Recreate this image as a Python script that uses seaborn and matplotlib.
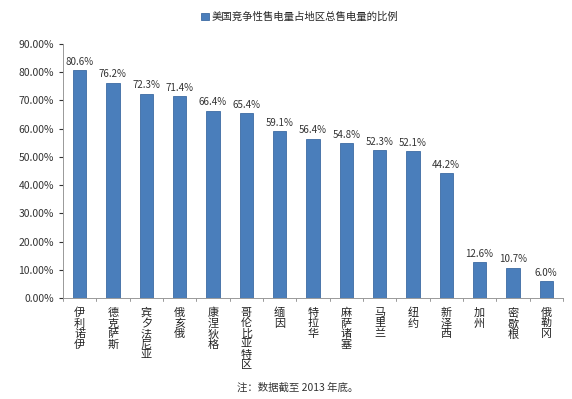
import pandas as pd
import seaborn as sns
import matplotlib.pyplot as plt
from matplotlib.ticker import FuncFormatter

states = ['伊利诺伊', '德克萨斯', '宾夕法尼亚', '俄亥俄', '康涅狄格', '哥伦比亚特区', '缅因',
          '特拉华', '麻萨诸塞', '马里兰', '纽约', '新泽西', '加州', '密歇根', '俄勒冈']
share = [80.6, 76.2, 72.3, 71.4, 66.4, 65.4, 59.1, 56.4, 54.8, 52.3, 52.1, 44.2, 12.6, 10.7, 6.0]
series_name = '美国竞争性售电量占地区总售电量的比例'
note = '注：数据截至 2013 年底。'

df = pd.DataFrame({'state': states, 'share': share})

sns.set_style('white')
plt.rcParams['font.family'] = ['Noto Sans CJK SC', 'DejaVu Sans']

fig = plt.figure(figsize=(5.72, 3.99), dpi=100)
ax = fig.add_axes([0.110, 0.253, 0.874, 0.637])

sns.barplot(data=df, x='state', y='share', ax=ax, color='#4a7ebb', width=0.4,
            edgecolor='#3d6ba3', linewidth=0.6, saturation=1, label=series_name)

for i, v in enumerate(share):
    ax.text(i, v + 1.2, f'{v:.1f}%', ha='center', va='bottom', fontsize=7, color='#333333')

ax.set_ylim(0, 90)
ax.set_yticks(range(0, 91, 10))
ax.yaxis.set_major_formatter(FuncFormatter(lambda y, _: f'{y:.2f}%'))
ax.set_xlim(-0.5, len(states) - 0.5)
ax.set_xticks(range(len(states)))
ax.set_xticklabels(['\n'.join(s) for s in states], fontsize=8, linespacing=1.05, va='top')
ax.tick_params(axis='x', length=0, pad=7, colors='#222222')
ax.tick_params(axis='y', labelsize=7.5, length=3, direction='out', left=True, colors='#333333')
ax.set_xlabel('')
ax.set_ylabel('')

# category boundary ticks on x axis
for b in range(len(states) + 1):
    ax.plot([b - 0.5, b - 0.5], [0, -1.2], color='#999999', lw=0.7, clip_on=False)

for side in ['top', 'right']:
    ax.spines[side].set_visible(False)
ax.spines['left'].set_color('#999999')
ax.spines['bottom'].set_color('#999999')
ax.spines['left'].set_linewidth(0.7)
ax.spines['bottom'].set_linewidth(0.7)

ax.legend(loc='center', bbox_to_anchor=(0.474, 1.105), frameon=False, fontsize=7.5,
          handlelength=0.7, handleheight=0.7, handletextpad=0.3, borderpad=0.1)

fig.text(0.52, 0.028, note, ha='center', va='center', fontsize=7.5, color='#333333')

fig.savefig('out.png', dpi=100, facecolor='white')
